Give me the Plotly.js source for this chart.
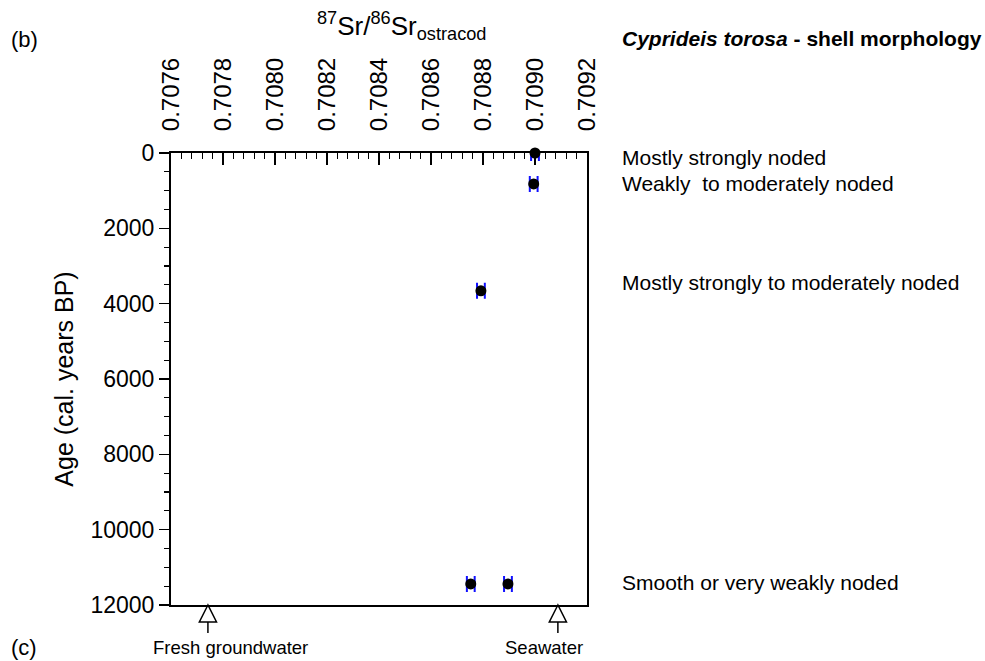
<!DOCTYPE html>
<html>
<head>
<meta charset="utf-8">
<script src="https://cdn.plot.ly/plotly-3.0.1.min.js"></script>
<style>html,body{margin:0;padding:0;background:#fff;}#chart{width:985px;height:661px;}</style>
</head>
<body>
<div id="chart"></div>
<script>
// Data
const srRatio = [0.709000, 0.708995, 0.708792, 0.708753, 0.708896];
const ageCalBP = [0, 820, 3660, 11440, 11440];
const srError = [0.000015, 0.000015, 0.000015, 0.000015, 0.000015];

const endMemberX = [0.707742, 0.709088];
const endMemberLabels = ['Fresh groundwater', 'Seawater'];
const endMemberLabelX = [0.707827, 0.709035];

const morphLabels = ['Mostly strongly noded', 'Weakly  to moderately noded', 'Mostly strongly to moderately noded', 'Smooth or very weakly noded'];
const morphY = [0.991, 0.9336, 0.7124, 0.0487];

const FONT = 'Liberation Sans, Arial, Helvetica, sans-serif';

const trace = {
  x: srRatio, y: ageCalBP, type: 'scatter', mode: 'markers',
  marker: {color: '#000', size: 11},
  error_x: {type: 'data', array: srError, visible: true, color: '#1010ff', thickness: 2, width: 8},
  cliponaxis: false, showlegend: false, hoverinfo: 'none'
};

const shapes = [];
const annotations = [];
const halfW = 0.0000330;
endMemberX.forEach((x, i) => {
  shapes.push({type: 'path', xref: 'x', yref: 'paper',
    path: `M${x},0 L${x - halfW},-0.0376 L${x + halfW},-0.0376 Z`,
    line: {color: '#000', width: 1.5}, fillcolor: 'rgba(0,0,0,0)'});
  shapes.push({type: 'line', xref: 'x', yref: 'paper', x0: x, x1: x, y0: -0.0376, y1: -0.062,
    line: {color: '#000', width: 1.5}});
  annotations.push({text: endMemberLabels[i], xref: 'x', yref: 'paper', x: endMemberLabelX[i], y: -0.095,
    xanchor: 'center', yanchor: 'middle', showarrow: false, font: {size: 18.5, color: '#000', family: FONT}});
});

morphLabels.forEach((t, i) => {
  annotations.push({text: t, xref: 'paper', yref: 'paper', x: 1.0793, y: morphY[i],
    xanchor: 'left', yanchor: 'middle', showarrow: false, font: {size: 21, color: '#000', family: FONT}});
});

annotations.push({text: '<b><i>Cyprideis torosa</i> - shell morphology</b>', xref: 'paper', yref: 'paper',
  x: 1.0793, y: 1.254, xanchor: 'left', yanchor: 'middle', showarrow: false, font: {size: 21, color: '#000', family: FONT}});
annotations.push({text: '<sup>87</sup>Sr/<sup>86</sup>Sr<sub>ostracod</sub>', xref: 'paper', yref: 'paper',
  x: 0.553, y: 1.281, xanchor: 'center', yanchor: 'middle', showarrow: false, font: {size: 26, color: '#000', family: FONT}});
annotations.push({text: '(b)', xref: 'paper', yref: 'paper', x: -0.39, y: 1.252, xanchor: 'left', yanchor: 'middle',
  showarrow: false, font: {size: 22, color: '#000', family: FONT}});
annotations.push({text: '(c)', xref: 'paper', yref: 'paper', x: -0.39, y: -0.094, xanchor: 'left', yanchor: 'middle',
  showarrow: false, font: {size: 22, color: '#000', family: FONT}});

const layout = {
  width: 985, height: 661,
  margin: {l: 171, r: 398, t: 153, b: 56},
  paper_bgcolor: '#fff', plot_bgcolor: '#fff',
  font: {family: FONT, color: '#000'},
  xaxis: {
    range: [0.7076, 0.7092], side: 'top', showgrid: false, zeroline: false,
    showline: true, linecolor: '#000', linewidth: 2, mirror: true,
    ticks: 'inside', ticklen: 12, tickwidth: 1.5, tickcolor: '#000',
    tick0: 0.7076, dtick: 0.0002, tickangle: -90, tickformat: '.4f',
    ticklabelstandoff: 15,
    tickfont: {size: 24, family: FONT, color: '#000'},
    minor: {ticks: 'inside', dtick: 0.00004, ticklen: 6, tickwidth: 1.2, tickcolor: '#000', showgrid: false}
  },
  yaxis: {
    range: [12000, 0], showgrid: false, zeroline: false,
    showline: true, linecolor: '#000', linewidth: 2, mirror: true,
    ticks: 'outside', ticklen: 10, tickwidth: 1.5, tickcolor: '#000',
    tick0: 0, dtick: 2000, tickformat: 'd',
    tickfont: {size: 23, family: FONT, color: '#000'},
    minor: {ticks: 'outside', dtick: 500, ticklen: 5, tickwidth: 1.2, tickcolor: '#000', showgrid: false},
    title: {text: 'Age (cal. years BP)', font: {size: 25, family: FONT, color: '#000'}, standoff: 10}
  },
  shapes: shapes,
  annotations: annotations
};

Plotly.newPlot('chart', [trace], layout, {staticPlot: true, displayModeBar: false});
</script>
</body>
</html>
